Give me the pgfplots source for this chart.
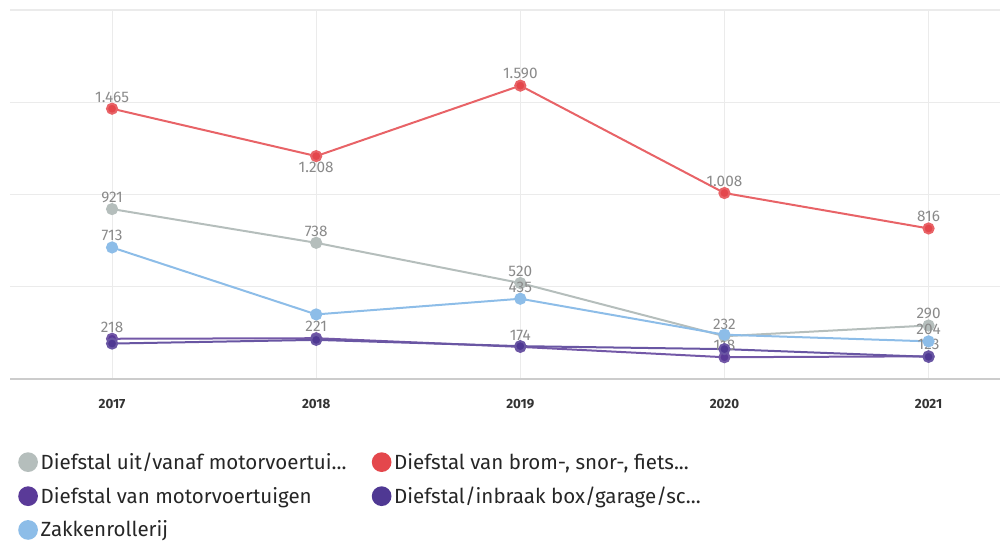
\documentclass[border=0pt]{standalone}
\usepackage{fontspec}
\setmainfont{Fira Sans}
\usepackage{pgfplots}
\usepackage{pgfplotstable}
\pgfplotsset{compat=1.18}

\definecolor{cgray}{HTML}{B5BEBC}
\definecolor{cred}{HTML}{E4474C}
\definecolor{cpurpleA}{HTML}{5A3A98}
\definecolor{cpurpleB}{HTML}{4F3893}
\definecolor{cblue}{HTML}{8DBDE8}
\definecolor{lblgray}{HTML}{8A8A8A}
\definecolor{gridc}{HTML}{EBEBEB}
\definecolor{axisc}{HTML}{CCCCCC}

% year, value, label text
\pgfplotstableread{
year val lbl
2017 921 921
2018 738 738
2019 520 520
2020 232 232
2021 290 290
}\uitvanaf
\pgfplotstableread{
year val lbl
2017 1465 1.465
2018 1208 {}
2019 1590 1.590
2020 1008 1.008
2021 816 816
}\brom
\pgfplotstableread{
year val lbl
2018 1208 1.208
}\bromlow
\pgfplotstableread{
year val lbl
2017 218 218
2018 221 221
2019 174 174
2020 118 118
2021 123 123
}\motor
\pgfplotstableread{
year val lbl
2017 192 {}
2018 212 {}
2019 178 {}
2020 162 {}
2021 120 {}
}\garagebox
\pgfplotstableread{
year val lbl
2017 713 713
2018 350 {}
2019 435 435
2020 240 {}
2021 204 204
}\zakken

\begin{document}
\begin{tikzpicture}
\path[use as bounding box] (0,0) rectangle (750pt,405.75pt);
\begin{axis}[
  at={(7.5pt,121.5pt)}, anchor=south west,
  scale only axis, width=742.5pt, height=276.75pt,
  xmin=2016.5, xmax=2021.35, ymin=0, ymax=2000,
  xtick={2017,2018,2019,2020,2021},
  xticklabels={2017,2018,2019,2020,2021},
  ytick={0,500,1000,1500,2000}, yticklabels={},
  extra y ticks={0}, extra y tick labels={},
  extra y tick style={grid style={draw=axisc, line width=1.5pt}},
  xmajorgrids, ymajorgrids,
  grid style={draw=gridc, line width=0.8pt},
  axis line style={draw=none},
  major tick length=0pt,
  x tick label style={font=\fontsize{10}{12}\selectfont\bfseries, text=black!80, yshift=-12pt},
  clip=false,
  point meta=explicit symbolic,
  nodes near coords,
  every node near coord/.append style={font=\fontsize{11.5}{13}\selectfont, text=lblgray, anchor=south, inner sep=4pt},
  every axis plot/.append style={line width=1.5pt, mark=*, mark size=3.8pt, mark options={draw=none}},
  legend columns=2,
  legend cell align=left,
  legend style={at={(0.004,-0.185)}, anchor=north west, draw=none, fill=none,
    font=\fontsize{15.4}{17}\selectfont, text=black!85, row sep=7.6pt,
    /tikz/every even column/.append style={column sep=17pt}},
  legend image code/.code={\fill[draw=none] (4pt,0pt) circle (7.4pt);},
]
\addplot[color=cgray] table[x=year, y=val, meta=lbl] {\uitvanaf};
\addlegendentry{Diefstal uit/vanaf motorvoertui...}
\addplot[color=cred, draw=cred!85] table[x=year, y=val, meta=lbl] {\brom};
\addlegendentry{Diefstal van brom-, snor-, fiets...}
\addplot[color=cpurpleA, draw=cpurpleA!85] table[x=year, y=val, meta=lbl] {\motor};
\addlegendentry{Diefstal van motorvoertuigen}
\addplot[color=cpurpleB, draw=cpurpleB!85] table[x=year, y=val, meta=lbl] {\garagebox};
\addlegendentry{Diefstal/inbraak box/garage/sc...}
\addplot[color=cblue] table[x=year, y=val, meta=lbl] {\zakken};
\addlegendentry{Zakkenrollerij}
\addplot[forget plot, draw=none, mark=none,
  every node near coord/.append style={anchor=north}] table[x=year, y=val, meta=lbl] {\bromlow};
\end{axis}
\end{tikzpicture}
\end{document}
